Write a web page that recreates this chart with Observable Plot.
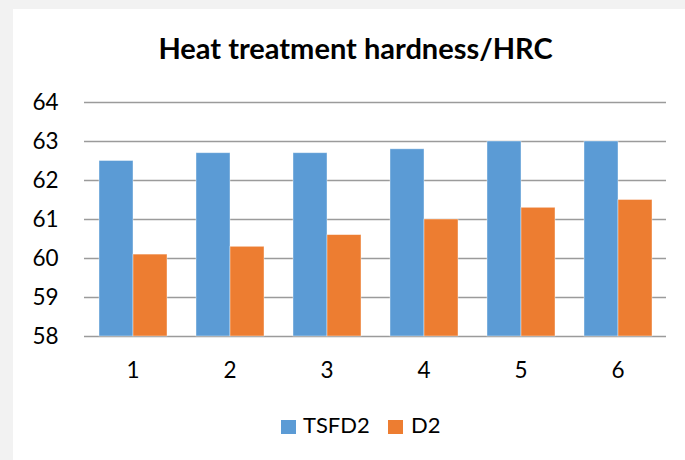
<!DOCTYPE html>
<html>
<head>
<meta charset="utf-8">
<script src="https://cdn.jsdelivr.net/npm/d3@7"></script>
<script src="https://cdn.jsdelivr.net/npm/@observablehq/plot@0.6"></script>
<style>
  html, body { margin: 0; padding: 0; }
  body { width: 685px; height: 460px; background: #f2f2f2; position: relative; overflow: hidden; font-family: Lato, "Open Sans", sans-serif; }
  #panel { position: absolute; left: 12.5px; top: 9px; width: 700px; height: 460px; background: #fff; }
  #title { position: absolute; left: 0; width: 711px; top: 33px; text-align: center; font-weight: bold; font-size: 29px; line-height: 29px; color: #000; white-space: nowrap; }
  #chart { position: absolute; left: 0; top: 0; }
  .sw { position: absolute; width: 14.5px; height: 14.5px; top: 419.5px; }
  .lt { position: absolute; top: 414px; font-size: 22px; line-height: 22px; color: #000; white-space: nowrap; }
</style>
</head>
<body>
<div id="panel"></div>
<div id="title">Heat treatment hardness/HRC</div>
<div id="chart"></div>
<div id="legend"></div>
<script>
const categories = ["1", "2", "3", "4", "5", "6"];
const seriesNames = ["TSFD2", "D2"];
const tsfd2 = [62.5, 62.7, 62.7, 62.8, 63.0, 63.0];
const d2 = [60.1, 60.3, 60.6, 61.0, 61.3, 61.5];
const yTicks = [58, 59, 60, 61, 62, 63, 64];
const colors = ["#5b9bd5", "#ed7d31"];

const rows = [];
categories.forEach((c, i) => {
  rows.push({cat: c, series: seriesNames[0], value: tsfd2[i]});
  rows.push({cat: c, series: seriesNames[1], value: d2[i]});
});

const chart = Plot.plot({
  width: 685,
  height: 460,
  marginLeft: 82,
  marginRight: 17,
  marginTop: 102,
  marginBottom: 124,
  style: {fontFamily: "Lato, 'Open Sans', sans-serif", fontSize: "22.5px", background: "transparent", color: "#000", overflow: "visible"},
  facet: {data: rows, x: "cat"},
  fx: {domain: categories, padding: 0, axis: "bottom", label: null, tickSize: 0, tickPadding: 26},
  x: {domain: seriesNames, paddingInner: 0, paddingOuter: 0.394, axis: null},
  y: {domain: [yTicks[0], yTicks[yTicks.length - 1]], ticks: yTicks, tickSize: 0, tickPadding: 26, label: null, tickFormat: d => String(d)},
  color: {domain: seriesNames, range: colors},
  marks: [
    Plot.ruleY(yTicks, {stroke: "#9b9b9b", strokeWidth: 1.6}),
    Plot.barY(rows, {x: "series", y1: yTicks[0], y2: "value", fill: "series", stroke: "#ffffff", strokeWidth: 0.8, strokeOpacity: 0.5, inset: 0})
  ]
});
document.getElementById("chart").appendChild(chart);

const legend = document.getElementById("legend");
const swLeft = [281, 388];
const txtLeft = [303, 411];
seriesNames.forEach((s, i) => {
  const sw = document.createElement("div");
  sw.className = "sw";
  sw.style.left = swLeft[i] + "px";
  sw.style.background = colors[i];
  legend.appendChild(sw);
  const t = document.createElement("div");
  t.className = "lt";
  t.style.left = txtLeft[i] + "px";
  t.textContent = s;
  legend.appendChild(t);
});
</script>
</body>
</html>
